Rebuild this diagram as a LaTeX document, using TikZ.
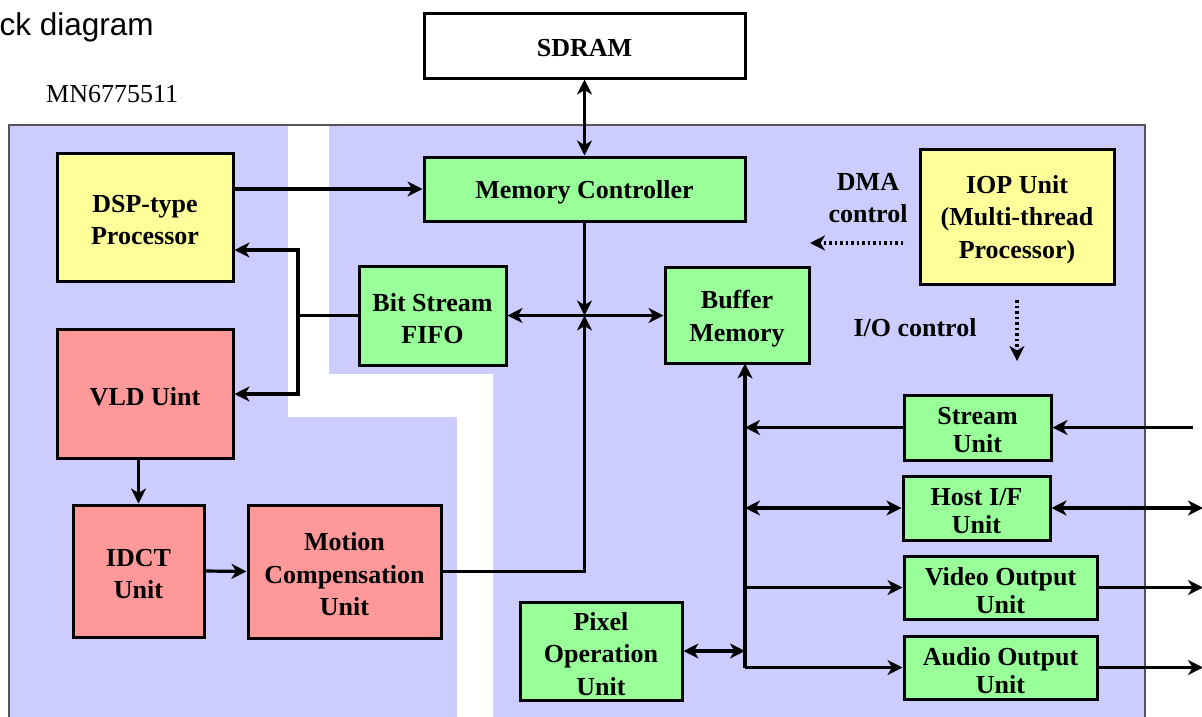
\documentclass[tikz,border=0pt]{standalone}
\usepackage{fontspec}
\setmainfont{Liberation Serif}
\newfontfamily\arialfont{Liberation Sans}
\usetikzlibrary{arrows.meta}
\definecolor{bgblue}{HTML}{CCCCFF}
\definecolor{boxgreen}{HTML}{99FF99}
\definecolor{boxyellow}{HTML}{FFFF99}
\definecolor{boxpink}{HTML}{FF9999}
\definecolor{framegray}{HTML}{555555}
\newcommand\boxfont{\fontsize{26}{32.5}\selectfont\bfseries}
\newcommand\ioboxfont{\fontsize{26}{28}\selectfont\bfseries}
\tikzset{
  box/.style={draw, line width=3pt, inner sep=0pt},
  gbox/.style={box, fill=boxgreen},
  ybox/.style={box, fill=boxyellow},
  pbox/.style={box, fill=boxpink},
  boxtext/.style={font=\boxfont, align=center, inner sep=0pt, yshift=-3pt},
  txt/.style={label={[boxtext]center:{#1}}},
  iotxt/.style={label={[boxtext, font=\ioboxfont]center:{#1}}},
  arr/.style={-{Stealth[length=15pt,width=15pt,inset=4.5pt]}, line width=3.2pt},
  arrtwo/.style={{Stealth[length=15pt,width=15pt,inset=4.5pt]}-{Stealth[length=15pt,width=15pt,inset=4.5pt]}, line width=3.2pt},
  dotarr/.style={arr, dash pattern=on 2.5pt off 3pt},
  lbl/.style={font=\boxfont, align=center, inner sep=0pt}
}
\begin{document}
\begin{tikzpicture}[x=1pt,y=-1pt]
\useasboundingbox (0,0) rectangle (1202,716);
% background frame
\fill[bgblue] (9,125) rectangle (1145,722);
\fill[white] (288,125) -- (329,125) -- (329,374) -- (493,374) -- (493,722) -- (457,722) -- (457,417) -- (288,417) -- cycle;
\draw[framegray, line width=2pt] (9,722) -- (9,125) -- (1145,125) -- (1145,722);
% texts
\node[anchor=base west, font=\arialfont\fontsize{31.5}{36}\selectfont, inner sep=0pt] (title) at (-0.5,35.5) {ck diagram};
\node[anchor=base west, font=\fontsize{26}{30}\selectfont, inner sep=0pt] (chip) at (46,102) {MN6775511};
% nodes
\node[box, fill=white, minimum width=321, minimum height=65, txt={SDRAM}] (sdram) at (584.5,45.5) {};
\node[gbox, minimum width=321, minimum height=64, txt={Memory Controller}] (mem) at (584.5,189) {};
\node[ybox, minimum width=176, minimum height=128, txt={DSP-type\\Processor}] (dsp) at (145,217) {};
\node[pbox, minimum width=176, minimum height=129, txt={VLD Uint}] (vld) at (145,393.5) {};
\node[pbox, minimum width=131, minimum height=132, txt={IDCT\\Unit}] (idct) at (138.5,571) {};
\node[pbox, minimum width=193, minimum height=133, txt={Motion\\Compensation\\Unit}] (mcomp) at (344.5,571.5) {};
\node[gbox, minimum width=147, minimum height=99, txt={Bit Stream\\FIFO}] (fifo) at (432.5,315.5) {};
\node[gbox, minimum width=144, minimum height=96, txt={Buffer\\Memory}] (buf) at (737,315.5) {};
\node[ybox, minimum width=194, minimum height=135, txt={IOP Unit\\(Multi-thread\\Processor)}] (iop) at (1017,216.5) {};
\node[gbox, minimum width=147, minimum height=65, iotxt={Stream\\Unit}] (str) at (977.5,427.5) {};
\node[gbox, minimum width=147, minimum height=64, iotxt={Host I/F\\Unit}] (host) at (976.5,508) {};
\node[gbox, minimum width=193, minimum height=63, iotxt={Video Output\\Unit}] (vid) at (1000.5,587.5) {};
\node[gbox, minimum width=193, minimum height=63, iotxt={Audio Output\\Unit}] (aud) at (1000.5,667.5) {};
\node[gbox, minimum width=162, minimum height=98, txt={Pixel\\Operation\\Unit}] (pix) at (601,651) {};
\node[lbl] (dmal) at (868,198) {DMA\\control};
\node[lbl] (iol) at (915,328) {I/O control};
% coordinates
\coordinate (J) at (584.5,315.5);
\coordinate (B1) at (298,250);
\coordinate (B2) at (298,394);
\coordinate (bt) at (745,363.5);
\coordinate (e1) at (1193,427.5);
\coordinate (e2) at (1203,508);
\coordinate (e3) at (1203,587.5);
\coordinate (e4) at (1203,667.5);
\coordinate (d1) at (903,243);
\coordinate (d2) at (810,243);
\coordinate (i1) at (1017,300);
\coordinate (i2) at (1017,361);
% connectors
\draw[arrtwo] (sdram.south) -- (mem.north);
\draw[arr] (dsp.east |- mem.west) -- (mem.west);
\draw[arr] (fifo.west) -| (B1) -- (B1 -| dsp.east);
\draw[arr] (fifo.west) -| (B2) -- (B2 -| vld.east);
\draw[arr] (vld.south -| idct.north) -- (idct.north);
\draw[arr] (idct.east) -- (mcomp.west);
\draw[arr] (mem.south) -- (J);
\draw[arr] (mcomp.east) -| (J);
\draw[arrtwo] (fifo.east) -- (buf.west);
\draw[arr] (bt |- aud.west) -- (bt);
\draw[arr] (bt |- aud.west) -- (aud.west);
\draw[arr] (str.west) -- (str.west -| bt);
\draw[arrtwo] (host.west -| bt) -- (host.west);
\draw[arr] (vid.west -| bt) -- (vid.west);
\draw[arrtwo] (pix.east) -- (pix.east -| bt);
\draw[arr] (e1) -- (str.east);
\draw[arrtwo] (host.east) -- (e2);
\draw[arr] (vid.east) -- (e3);
\draw[arr] (aud.east) -- (e4);
\draw[dotarr] (d1) -- (d2);
\draw[dotarr] (i1) -- (i2);
\end{tikzpicture}
\end{document}
